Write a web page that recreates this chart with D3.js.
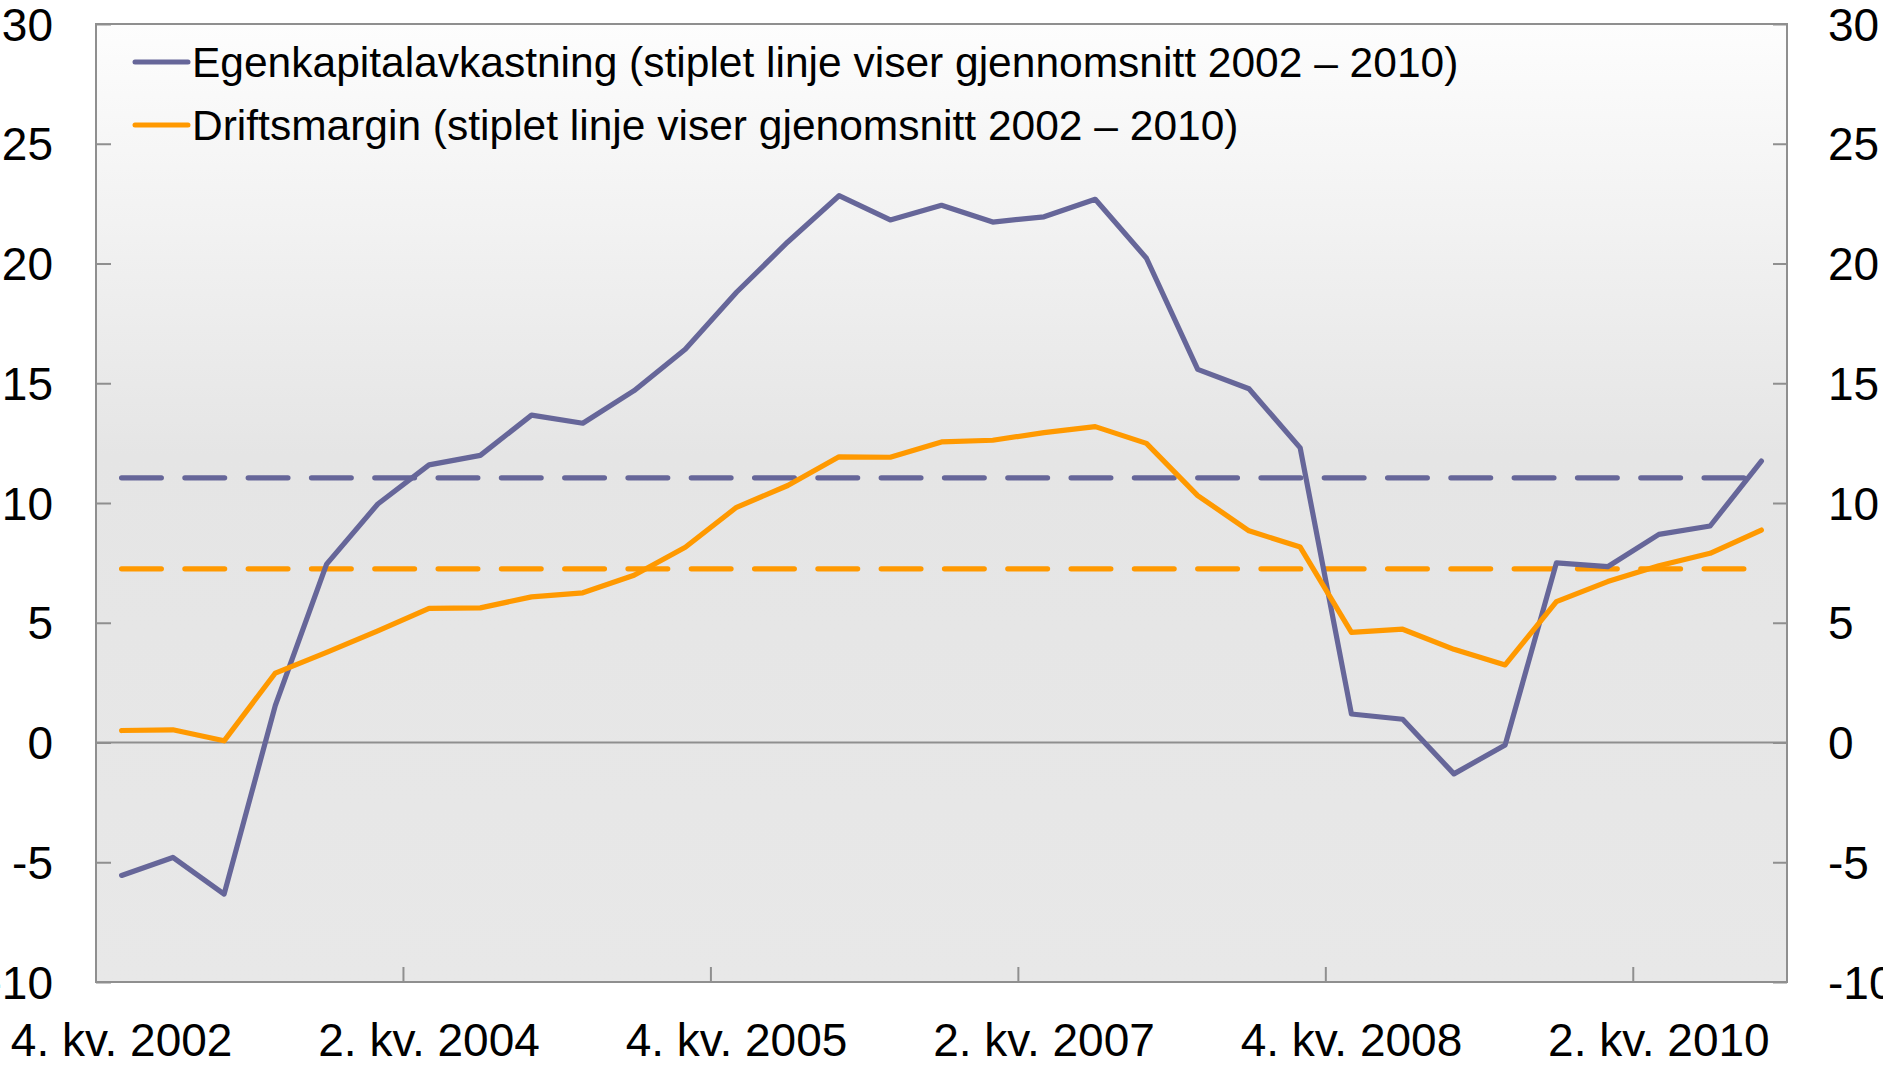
<!DOCTYPE html>
<html>
<head>
<meta charset="utf-8">
<script src="https://cdn.jsdelivr.net/npm/d3@7"></script>
<style>
  body { margin: 0; background: #fff; }
  svg { display: block; font-family: "Liberation Sans", Arial, sans-serif; }
</style>
</head>
<body>
<div id="chart"></div>
<script>
// kvartaler 4. kv. 2002 - 4. kv. 2010
const categories = [];
categories.push("4. kv. 2002");
for (let y = 2003; y <= 2010; y++) {
    for (let q = 1; q <= 4; q++) categories.push(q + ". kv. " + y);
}

// Egenkapitalavkastning, prosent
const egenkapital = [
    -5.55, -4.8, -6.33, 1.55, 7.45, 9.96, 11.59, 11.99, 13.67, 13.33, 14.69,
    16.42, 18.8, 20.9, 22.83, 21.82, 22.43, 21.73, 21.95, 22.68, 20.22, 15.58,
    14.77, 12.3, 1.19, 0.97, -1.31, -0.1, 7.5, 7.34, 8.69, 9.04, 11.75
];
// Driftsmargin, prosent
const driftsmargin = [
    0.5, 0.53, 0.07, 2.9, 3.76, 4.66, 5.6, 5.62, 6.08, 6.25, 6.98,
    8.15, 9.82, 10.73, 11.93, 11.91, 12.55, 12.62, 12.94, 13.19, 12.49, 10.31,
    8.84, 8.16, 4.6, 4.73, 3.89, 3.24, 5.88, 6.72, 7.38, 7.9, 8.87
];
// gjennomsnitt 2002 - 2010
const snittEgenkapital = 11.05;
const snittDrift = 7.25;

const yTicks = [-10, -5, 0, 5, 10, 15, 20, 25, 30];
const xLabelEvery = 6;

const seriesNames = [
    "Egenkapitalavkastning (stiplet linje viser gjennomsnitt 2002 \u2013 2010)",
    "Driftsmargin (stiplet linje viser gjenomsnitt 2002 \u2013 2010)"
];
const colors = ["#666699", "#ff9900"];

const W = 1883, H = 1067;
const plot = { left: 96, right: 1787, top: 24, bottom: 982 };

const svg = d3.select("#chart").append("svg")
    .attr("width", W).attr("height", H);

const defs = svg.append("defs");
const grad = defs.append("linearGradient")
    .attr("id", "bg").attr("x1", 0).attr("y1", 0).attr("x2", 0).attr("y2", 1);
grad.append("stop").attr("offset", "0%").attr("stop-color", "#fdfdfd");
grad.append("stop").attr("offset", "45%").attr("stop-color", "#e5e5e5");
grad.append("stop").attr("offset", "100%").attr("stop-color", "#e8e8e8");

// skalaer
const x = d3.scaleBand()
    .domain(categories)
    .range([plot.left, plot.right])
    .paddingInner(0).paddingOuter(0);
const y = d3.scaleLinear()
    .domain([-10, 30])
    .range([plot.bottom, plot.top]);
const cx = d => x(d) + x.bandwidth() / 2;

// bakgrunn
svg.append("rect")
    .attr("x", plot.left).attr("y", plot.top)
    .attr("width", plot.right - plot.left)
    .attr("height", plot.bottom - plot.top)
    .attr("fill", "url(#bg)");

const axisColor = "#8f8f8f";

// venstre akse
const leftAxis = svg.append("g")
    .attr("transform", `translate(${plot.left},0)`)
    .call(d3.axisRight(y).tickValues(yTicks).tickSize(15).tickFormat(""));
leftAxis.select(".domain").remove();
leftAxis.selectAll(".tick line").attr("stroke", axisColor).attr("stroke-width", 2);

// høyre akse
const rightAxis = svg.append("g")
    .attr("transform", `translate(${plot.right},0)`)
    .call(d3.axisLeft(y).tickValues(yTicks).tickSize(14).tickFormat(""));
rightAxis.select(".domain").remove();
rightAxis.selectAll(".tick line").attr("stroke", axisColor).attr("stroke-width", 2);

// x-akse merker på kategorigrenser
const boundaries = categories.filter((d, i) => i > 0 && i % xLabelEvery === 0);
svg.append("g").selectAll("line")
    .data(boundaries)
    .join("line")
    .attr("x1", d => x(d)).attr("x2", d => x(d))
    .attr("y1", plot.bottom).attr("y2", plot.bottom - 15)
    .attr("stroke", axisColor).attr("stroke-width", 2);

// ramme
svg.append("rect")
    .attr("x", plot.left).attr("y", plot.top)
    .attr("width", plot.right - plot.left)
    .attr("height", plot.bottom - plot.top)
    .attr("fill", "none")
    .attr("stroke", axisColor).attr("stroke-width", 2);

// nullinje
svg.append("line")
    .attr("x1", plot.left).attr("x2", plot.right)
    .attr("y1", y(0)).attr("y2", y(0))
    .attr("stroke", axisColor).attr("stroke-width", 2);

// tallverdier
svg.append("g").selectAll("text")
    .data(yTicks)
    .join("text")
    .attr("x", 53).attr("y", d => y(d)).attr("dy", "0.36em")
    .attr("text-anchor", "end")
    .attr("font-size", 46)
    .text(d => d);
svg.append("g").selectAll("text")
    .data(yTicks)
    .join("text")
    .attr("x", 1828).attr("y", d => y(d)).attr("dy", "0.36em")
    .attr("text-anchor", "start")
    .attr("font-size", 46)
    .text(d => d);

// kategorietiketter
svg.append("g").selectAll("text")
    .data(categories.filter((d, i) => i % xLabelEvery === 0))
    .join("text")
    .attr("x", d => cx(d)).attr("y", 1056)
    .attr("text-anchor", "middle")
    .attr("font-size", 46)
    .text(d => d);

// linjer
const line = d3.line()
    .x((d, i) => cx(categories[i]))
    .y(d => y(d));

const dashed = [snittEgenkapital, snittDrift];
dashed.forEach((v, k) => {
    svg.append("path")
        .datum(categories.map(() => v))
        .attr("d", line)
        .attr("fill", "none")
        .attr("stroke", colors[k])
        .attr("stroke-width", 5.3)
        .attr("stroke-linecap", "round")
        .attr("stroke-dasharray", "39.7,23.6");
});

[egenkapital, driftsmargin].forEach((s, k) => {
    svg.append("path")
        .datum(s)
        .attr("d", line)
        .attr("fill", "none")
        .attr("stroke", colors[k])
        .attr("stroke-width", 5.2)
        .attr("stroke-linejoin", "round")
        .attr("stroke-linecap", "round");
});

// tegnforklaring
const legend = svg.append("g");
seriesNames.forEach((name, k) => {
    const ly = 62 + k * 63;
    legend.append("line")
        .attr("x1", 135).attr("x2", 188)
        .attr("y1", ly).attr("y2", ly)
        .attr("stroke", colors[k]).attr("stroke-width", 5)
        .attr("stroke-linecap", "round");
    legend.append("text")
        .attr("x", 192).attr("y", ly).attr("dy", "0.36em")
        .attr("font-size", 42.5)
        .text(name);
});
</script>
</body>
</html>
